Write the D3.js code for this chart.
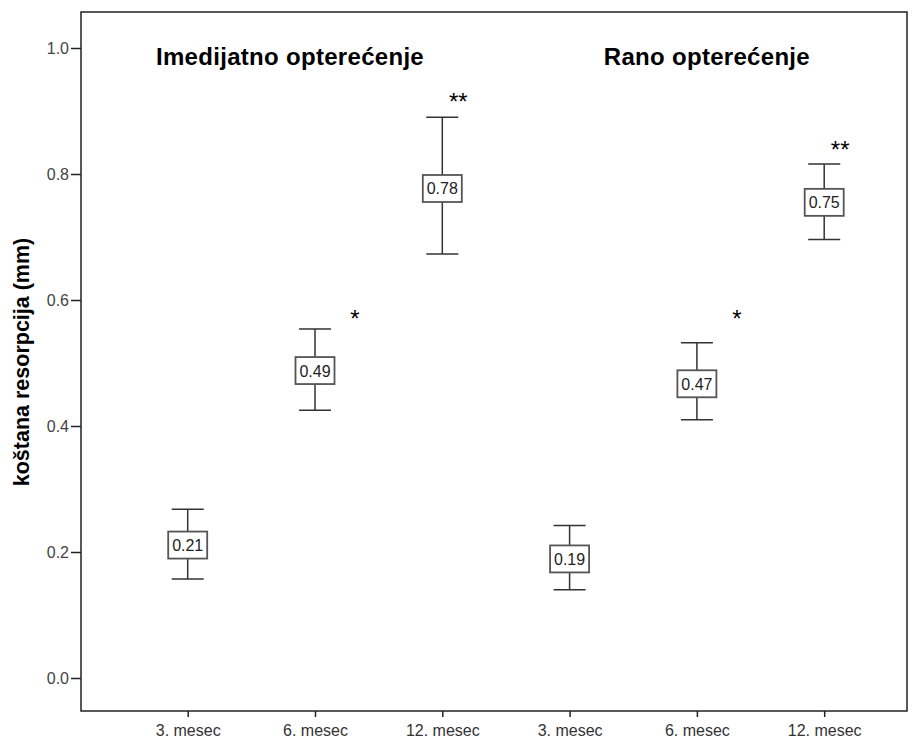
<!DOCTYPE html>
<html><head><meta charset="utf-8">
<script src="https://cdn.jsdelivr.net/npm/d3@7"></script>
<style>body{margin:0;background:#fff}</style>
</head><body>
<svg id="c" width="916" height="742"></svg>
<script>
const categories = ["3. mesec","6. mesec","12. mesec","3. mesec","6. mesec","12. mesec"];
const means = [0.21, 0.49, 0.78, 0.19, 0.47, 0.75];
const meanPos = [0.211, 0.488, 0.777, 0.189, 0.467, 0.755];
const upper = [0.268, 0.554, 0.890, 0.242, 0.532, 0.816];
const lower = [0.157, 0.425, 0.673, 0.140, 0.410, 0.696];
const groupTitles = ["Imedijatno opterećenje", "Rano opterećenje"];
const stars = ["", "*", "**", "", "*", "**"];
const starY = [null, 0.578, 0.922, null, 0.578, 0.846];
const yTicks = [0.0, 0.2, 0.4, 0.6, 0.8, 1.0];
const yTitle = "koštana resorpcija (mm)";

const svg = d3.select("#c");
const L = 81, R = 907, T = 12, B = 711;
const y = d3.scaleLinear().domain([0, 1]).range([678, 48]);
const x = d3.scalePoint().domain(d3.range(categories.length)).range([187.7, 824.2]);
const font = "'Liberation Sans', Arial, sans-serif";
const ink = "#333";

// frame
svg.append("rect").attr("x", L).attr("y", T).attr("width", R - L).attr("height", B - T)
  .attr("fill", "none").attr("stroke", "#222").attr("stroke-width", 1.5);

// y axis
const ya = svg.append("g").attr("transform", `translate(${L},0)`)
  .call(d3.axisLeft(y).tickValues(yTicks).tickFormat(d3.format(".1f")).tickSize(10).tickPadding(2));
ya.select(".domain").remove();
ya.selectAll(".tick line").attr("stroke", "#222").attr("stroke-width", 1.5);
ya.selectAll("text").attr("font-family", font).attr("font-size", 16).attr("fill", "#444");

// x axis
const xa = svg.append("g").attr("transform", `translate(0,${B})`)
  .call(d3.axisBottom(x).tickFormat(i => categories[i]).tickSize(6).tickPadding(5));
xa.select(".domain").remove();
xa.selectAll(".tick line").attr("stroke", "#222").attr("stroke-width", 1.5);
xa.selectAll("text").attr("font-family", font).attr("font-size", 16).attr("fill", "#333")
  .attr("y", 25).attr("dy", null);

// y title
svg.append("text").attr("transform", "translate(29,362) rotate(-90)")
  .attr("text-anchor", "middle").attr("font-family", font).attr("font-size", 21.5)
  .attr("font-weight", "bold").attr("fill", "#000").text(yTitle);

// group titles
[[0, 2], [3, 5]].forEach((g, i) => {
  svg.append("text").attr("x", (x(g[0]) + x(g[1])) / 2 + (i === 0 ? -25 : 10)).attr("y", 65)
    .attr("text-anchor", "middle").attr("font-family", font).attr("font-size", 24)
    .attr("letter-spacing", 0.3)
    .attr("font-weight", "bold").attr("fill", "#000").text(groupTitles[i]);
});

// error bars
const capW = 32, boxW = 39, boxH = 27;
const g = svg.append("g");
categories.forEach((c, i) => {
  const cx = x(i);
  g.append("line").attr("x1", cx).attr("x2", cx).attr("y1", y(upper[i])).attr("y2", y(lower[i]))
    .attr("stroke", ink).attr("stroke-width", 1.5);
  [upper[i], lower[i]].forEach(v => {
    g.append("line").attr("x1", cx - capW / 2).attr("x2", cx + capW / 2).attr("y1", y(v)).attr("y2", y(v))
      .attr("stroke", ink).attr("stroke-width", 1.5);
  });
  g.append("rect").attr("x", cx - boxW / 2).attr("y", y(meanPos[i]) - boxH / 2)
    .attr("width", boxW).attr("height", boxH).attr("fill", "#fff")
    .attr("stroke", "#555").attr("stroke-width", 1.8);
  g.append("text").attr("x", cx).attr("y", y(meanPos[i]) + 6).attr("text-anchor", "middle")
    .attr("font-family", font).attr("font-size", 16).attr("fill", "#222")
    .text(means[i].toFixed(2));
  if (stars[i]) {
    const off = stars[i] === "*" ? 40 : 16;
    g.append("text").attr("x", cx + off).attr("y", y(starY[i]) + 13).attr("text-anchor", "middle")
      .attr("font-family", font).attr("font-size", 24).attr("fill", "#000").text(stars[i]);
  }
});
</script>
</body></html>
